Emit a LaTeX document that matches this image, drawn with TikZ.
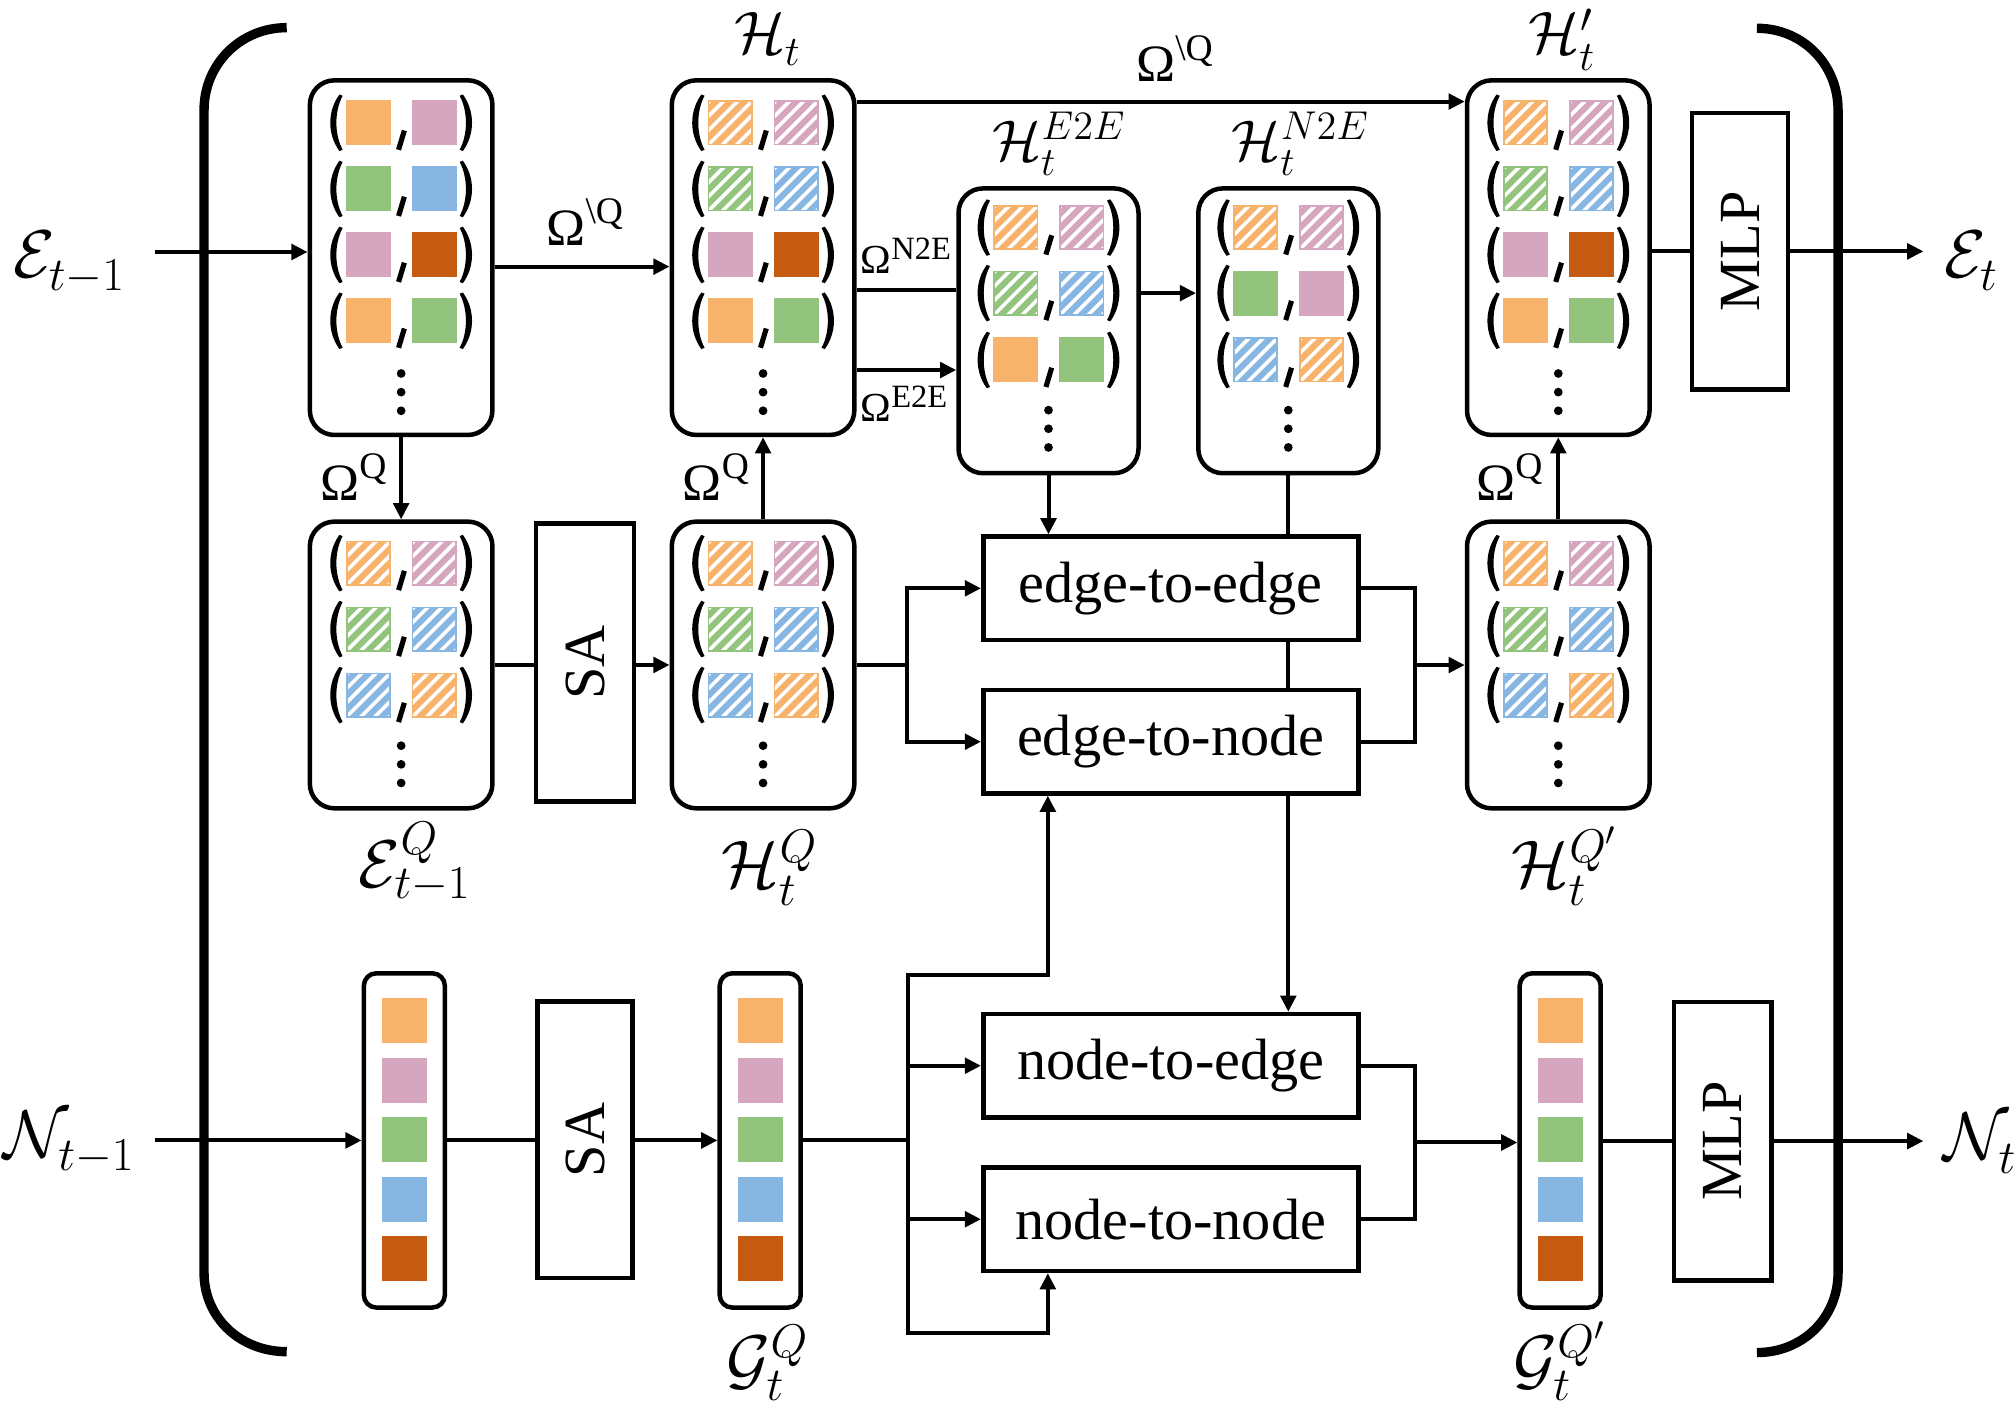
\documentclass[tikz,border=0pt]{standalone}
\usepackage{fix-cm}
\usepackage{fontspec}
\setmainfont{Liberation Serif}
\usetikzlibrary{arrows.meta,calc}
\def\UU{0.5143pt}
\definecolor{cor}{HTML}{F7B26B}
\definecolor{cpk}{HTML}{D5A6BD}
\definecolor{cgr}{HTML}{93C47D}
\definecolor{cbl}{HTML}{88B6E2}
\definecolor{cdo}{HTML}{C55A11}
\newcommand\subfix{\fontdimen16\textfont2=0.2\fontdimen6\textfont2 \fontdimen17\textfont2=0.27\fontdimen6\textfont2 }
\newcommand\colsq[4]{%
  \fill[#3] ({#1-17.5},{#2-17.5}) rectangle ({#1+17.5},{#2+17.5});
  \ifnum#4=1\relax
    \begin{scope}
      \clip ({#1-17.5},{#2-17.5}) rectangle ({#1+17.5},{#2+17.5});
      \foreach \hh in {-44,-33,...,44}{\draw[white,line width=2.8*\UU] ({#1+\hh-25},{#2+25}) -- ({#1+\hh+25},{#2-25});}
    \end{scope}
    \draw[#3,line width=1.3*\UU] ({#1-16.85},{#2-16.85}) rectangle ({#1+16.85},{#2+16.85});
  \fi}
\newcommand\mylpar[2]{\fill ({#1+3},{#2-22}) .. controls ({#1-6.5},{#2-9}) and ({#1-6.5},{#2+9}) .. ({#1+3},{#2+22}) -- ({#1+5.5},{#2+21}) .. controls ({#1-1},{#2+9}) and ({#1-1},{#2-9}) .. ({#1+5.5},{#2-21}) -- cycle;}
\newcommand\myrpar[2]{\fill ({#1-3},{#2-22}) .. controls ({#1+6.5},{#2-9}) and ({#1+6.5},{#2+9}) .. ({#1-3},{#2+22}) -- ({#1-5.5},{#2+21}) .. controls ({#1+1},{#2+9}) and ({#1+1},{#2-9}) .. ({#1-5.5},{#2-21}) -- cycle;}
\newcommand\mycomma[2]{\draw[line width=4*\UU] ({#1+2.5},{#2+6}) -- ({#1-2},{#2+21});}
\newcommand\pairrow[6]{\mylpar{#1-51}{#2}\colsq{#1-25.5}{#2}{#3}{#4}\mycomma{#1}{#2}\colsq{#1+25.8}{#2}{#5}{#6}\myrpar{#1+51}{#2}}
\newcommand\mydots[2]{\fill (#1,#2) circle[radius=1.75pt]; \fill (#1,{#2+14.5}) circle[radius=1.75pt]; \fill (#1,{#2+29}) circle[radius=1.75pt];}
\newcommand\nodelist[1]{\colsq{#1}{794}{cor}{0}\colsq{#1}{840.2}{cpk}{0}\colsq{#1}{886.4}{cgr}{0}\colsq{#1}{932.6}{cbl}{0}\colsq{#1}{978.8}{cdo}{0}}
\tikzset{
  box/.style={draw, line width=1.8pt, rounded corners=9.8pt, inner sep=0pt},
  ebox4/.style={box, minimum width=142*\UU, minimum height=275.8*\UU},
  ebox3/.style={box, minimum width=142*\UU, minimum height=223*\UU},
  eboxm/.style={box, minimum width=140*\UU, minimum height=221.5*\UU},
  lbox/.style={draw, line width=1.8pt, rounded corners=5pt, inner sep=0pt, minimum width=63*\UU, minimum height=260*\UU},
  tbox/.style={draw, line width=1.8pt, inner sep=0pt, font=\fontsize{23.3}{26}\selectfont},
  fbox/.style={tbox, minimum width=291.7*\UU, minimum height=80.4*\UU},
  vbox/.style={tbox, minimum width=75*\UU, minimum height=216*\UU},
  conn/.style={line width=1.6pt},
  arr/.style={conn, -{Triangle[length=6.5pt,width=6.2pt]}},
  biglab/.style={inner sep=0pt, font=\fontsize{27}{30}\selectfont},
  toplab/.style={inner sep=0pt, font=\fontsize{24}{26}\selectfont},
  midlab/.style={inner sep=0pt, font=\fontsize{23}{25}\selectfont},
  omlab/.style={inner sep=0pt, font=\fontsize{21}{23}\selectfont},
  omsmall/.style={inner sep=0pt, font=\fontsize{16.5}{18}\selectfont},
  bracket/.style={line width=3.75pt}
}
\begin{document}
\begin{tikzpicture}[x={(0.5143pt,0)}, y={(0,-0.5143pt)}]
\useasboundingbox (0,0) rectangle (1568,1100);
% brackets
\draw[bracket] (223,21.5) .. controls (187,21.5) and (158.7,50) .. (158.7,85.6) -- (158.7,990) .. controls (158.7,1025) and (187,1051.3) .. (223,1051.3);
\draw[bracket] (1366.5,22) .. controls (1402,22) and (1429.6,50) .. (1429.6,85.6) -- (1429.6,990) .. controls (1429.6,1025) and (1402,1052) .. (1366.5,1052);
% pair boxes
\node[ebox4] (b1) at (312,200.4) {};
\node[ebox4] (b2) at (593.5,200.4) {};
\node[ebox4] (bHp) at (1212,200.4) {};
\node[ebox3] (bEQ) at (312,517.2) {};
\node[ebox3] (bHQ) at (593.5,517.2) {};
\node[ebox3] (bHQp) at (1212,517.2) {};
\node[eboxm] (bE2E) at (815.5,257.3) {};
\node[eboxm] (bN2E) at (1002,257.3) {};
% operation boxes
\node[vbox, minimum width=76*\UU, minimum height=216.5*\UU] (sa1) at (455,515.3) {\rotatebox{90}{SA}};
\node[vbox, minimum width=74.5*\UU, minimum height=215*\UU] (mlp1) at (1353.3,195.5) {\rotatebox{90}{MLP}};
\node[vbox, minimum width=74*\UU, minimum height=215*\UU] (sa2) at (455,886.5) {\rotatebox{90}{SA}};
\node[vbox, minimum width=76*\UU, minimum height=216.6*\UU] (mlp2) at (1340,887.5) {\rotatebox{90}{MLP}};
\node[fbox] (e2e) at (910.6,457.6) {edge-to-edge};
\node[fbox] (e2n) at (910.6,576.9) {edge-to-node};
\node[fbox] (n2e) at (910.6,828.9) {node-to-edge};
\node[fbox] (n2n) at (910.6,948.3) {node-to-node};
% node lists
\node[lbox] (l1) at (314.5,887) {};
\node[lbox] (l2) at (591.3,887) {};
\node[lbox] (l3) at (1213.5,887) {};
\nodelist{314.5}\nodelist{591.3}\nodelist{1213.5}
% contents of pair boxes
\pairrow{312}{95.5}{cor}{0}{cpk}{0}
\pairrow{312}{147}{cgr}{0}{cbl}{0}
\pairrow{312}{198.3}{cpk}{0}{cdo}{0}
\pairrow{312}{249.5}{cor}{0}{cgr}{0}
\mydots{312}{290.5}
\foreach \cx in {593.5,1212}{
  \pairrow{\cx}{95.5}{cor}{1}{cpk}{1}
  \pairrow{\cx}{147}{cgr}{1}{cbl}{1}
  \pairrow{\cx}{198.3}{cpk}{0}{cdo}{0}
  \pairrow{\cx}{249.5}{cor}{0}{cgr}{0}
  \mydots{\cx}{290.5}
}
\foreach \cx in {312,593.5,1212}{
  \pairrow{\cx}{438}{cor}{1}{cpk}{1}
  \pairrow{\cx}{489.3}{cgr}{1}{cbl}{1}
  \pairrow{\cx}{540.6}{cbl}{1}{cor}{1}
  \mydots{\cx}{580}
}
\pairrow{815.5}{177}{cor}{1}{cpk}{1}
\pairrow{815.5}{228}{cgr}{1}{cbl}{1}
\pairrow{815.5}{280}{cor}{0}{cgr}{0}
\mydots{815.5}{319}
\pairrow{1002}{177}{cor}{1}{cpk}{1}
\pairrow{1002}{228}{cgr}{0}{cpk}{0}
\pairrow{1002}{280}{cbl}{1}{cor}{1}
\mydots{1002}{319}
% labels
\node[biglab, anchor=base west] (lE1) at (10,215.5) {$\subfix\mathcal{E}_{t-1}$};
\node[biglab, anchor=base west] (lN1) at (2,900) {$\subfix\mathcal{N}_{t-1}$};
\node[biglab, anchor=base west] (lEt) at (1512,215.5) {$\subfix\mathcal{E}_{t}$};
\node[biglab, anchor=base west] (lNt) at (1511,902) {$\subfix\mathcal{N}_{t}$};
\node[toplab, anchor=base] (lHt) at (597,42) {$\subfix\mathcal{H}_{t}$};
\node[toplab, anchor=base] (lHp) at (1215,42) {$\subfix\mathcal{H}'_{t}$};
\node[midlab, anchor=base] (lHE) at (823.8,124.5) {$\subfix\mathcal{H}_{t}^{E2E}$};
\node[midlab, anchor=base] (lHN) at (1011.5,124.5) {$\subfix\mathcal{H}_{t}^{N2E}$};
\node[biglab, anchor=base] (lEQ) at (322.7,690) {$\subfix\mathcal{E}_{t-1}^{Q}$};
\node[biglab, anchor=base] (lHQ) at (598.7,690) {$\subfix\mathcal{H}_{t}^{Q}$};
\node[biglab, anchor=base] (lHQp) at (1217,690) {$\subfix\mathcal{H}_{t}^{Q'}$};
\node[biglab, anchor=base] (lGQ) at (597,1075) {$\subfix\mathcal{G}_{t}^{Q}$};
\node[biglab, anchor=base] (lGQp) at (1213,1075) {$\subfix\mathcal{G}_{t}^{Q'}$};
\node[omlab, anchor=base west] (o1) at (424.7,190.6) {Ω\raisebox{8.5pt}{\fontsize{15}{15}\selectfont\textbackslash Q}};
\node[omlab, anchor=base west] (o2) at (883.4,63.5) {Ω\raisebox{8.5pt}{\fontsize{15}{15}\selectfont\textbackslash Q}};
\node[omsmall, anchor=base west] (o3) at (669,212.5) {Ω\raisebox{5.5pt}{\fontsize{13}{13}\selectfont N2E}};
\node[omsmall, anchor=base west] (o4) at (669,328) {Ω\raisebox{5.5pt}{\fontsize{13}{13}\selectfont E2E}};
\node[omlab, anchor=base east] (o5) at (301,389) {Ω\raisebox{8.5pt}{\fontsize{15}{15}\selectfont Q}};
\node[omlab, anchor=base east] (o6) at (583,389) {Ω\raisebox{8.5pt}{\fontsize{15}{15}\selectfont Q}};
\node[omlab, anchor=base east] (o7) at (1200,389) {Ω\raisebox{8.5pt}{\fontsize{15}{15}\selectfont Q}};
% connectors: edge stream
\coordinate (in1) at (120.6,196);
\draw[arr] (in1) -- (in1 -| b1.west);
\coordinate (c1) at ($(b1.east)+(0,7)$);
\draw[arr] (c1) -- (c1 -| b2.west);
\coordinate (c2) at (b2.east |- 0,79);
\draw[arr] (c2) -- (c2 -| bHp.west);
\coordinate (c3) at (b2.east |- 0,225.6);
\draw[conn] (c3) -- (c3 -| bE2E.west);
\coordinate (c4) at (b2.east |- 0,287.8);
\draw[arr] (c4) -- (c4 -| bE2E.west);
\coordinate (c5) at (bE2E.east |- 0,228);
\draw[arr] (c5) -- (c5 -| bN2E.west);
\draw[arr] (b1.south) -- (b1.south |- bEQ.north);
\draw[arr] (bHQ.north) -- (bHQ.north |- b2.south);
\draw[conn] (bEQ.east) -- (bEQ.east -| sa1.west);
\draw[arr] (sa1.east |- bHQ.west) -- (bHQ.west);
\coordinate (s1) at (bHQ.east -| 705.3,0);
\draw[conn] (bHQ.east) -- (s1);
\draw[arr] (s1) |- (e2e.west);
\draw[arr] (s1) |- (e2n.west);
\coordinate (m1) at ($(e2e.east)!0.5!(e2n.east)+(42,0)$);
\draw[conn] (e2e.east) -| (m1) |- (e2n.east);
\draw[arr] (m1) -- (m1 -| bHQp.west);
\draw[arr] (bE2E.south) -- (bE2E.south |- e2e.north);
\draw[conn] (bN2E.south) -- (bN2E.south |- e2e.north);
\draw[conn] (bN2E.south |- e2e.south) -- (bN2E.south |- e2n.north);
\draw[arr] (bN2E.south |- e2n.south) -- (bN2E.south |- n2e.north);
\draw[arr] (bHQp.north) -- (bHQp.north |- bHp.south);
\draw[conn] (bHp.east |- mlp1.west) -- (mlp1.west);
\coordinate (out1) at (1496,195.5);
\draw[arr] (mlp1.east) -- (out1);
% connectors: node stream
\coordinate (in2) at (120.6,887);
\draw[arr] (in2) -- (in2 -| l1.west);
\draw[conn] (l1.east) -- (l1.east -| sa2.west);
\draw[arr] (sa2.east |- l2.west) -- (l2.west);
\coordinate (s2) at (l2.east -| 706,0);
\draw[conn] (l2.east) -- (s2);
\draw[arr] (s2) |- (n2e.west);
\draw[arr] (s2) |- (n2n.west);
\coordinate (u2) at (815,758);
\draw[arr] (s2) |- (u2) -- (u2 |- e2n.south);
\coordinate (d2) at (815,1036.6);
\draw[arr] (s2) |- (d2) -- (d2 |- n2n.south);
\coordinate (m2) at ($(n2e.east)!0.5!(n2n.east)+(42,0)$);
\draw[conn] (n2e.east) -| (m2) |- (n2n.east);
\draw[arr] (m2) -- (m2 -| l3.west);
\draw[conn] (l3.east |- mlp2.west) -- (mlp2.west);
\coordinate (out2) at (1496,887.5);
\draw[arr] (mlp2.east) -- (out2);
\end{tikzpicture}
\end{document}
